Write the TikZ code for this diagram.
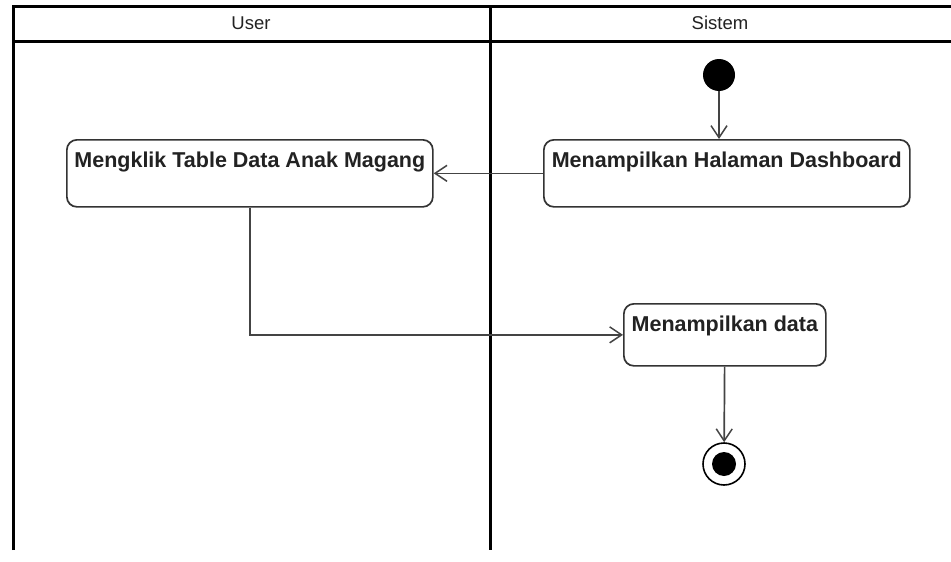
\documentclass[tikz,border=0pt]{standalone}
\usepackage{fontspec}
\setmainfont{Liberation Sans}
\usepackage{tikz}
\usetikzlibrary{arrows.meta, positioning}
\definecolor{mLane}{HTML}{000000}
\definecolor{mBorder}{HTML}{333333}
\definecolor{mText}{HTML}{222222}
\definecolor{mArrow}{HTML}{444444}

\begin{document}
\begin{tikzpicture}[x=1pt, y=-1pt,
    lane/.style={line width=3pt, mLane},
    head/.style={font=\fontsize{18.5}{22}\selectfont, text=mText},
    box/.style={rectangle, draw=mBorder, line width=1.7pt, fill=white, rounded corners=10pt, text=mText, font=\fontsize{21.5}{24}\selectfont\bfseries, inner xsep=0pt, inner ysep=0pt, text height=28pt, text depth=39pt, anchor=north west},
    arrow/.style={line width=1.7pt, mArrow, -{Straight Barb[length=12pt, width=16pt, line width=1.5pt]}},
    initial/.style={circle, fill=black, minimum size=32pt, inner sep=0pt},
    final/.style={circle, draw=black, line width=1.6pt, fill=white, minimum size=42pt, inner sep=0pt, path picture={\fill[black] (path picture bounding box.center) circle (12pt);}}
]
    \useasboundingbox (0,0) rectangle (951,562);

    % swimlanes
    \draw[lane] (13,550) -- (13,6) -- (951,6);
    \draw[lane] (13,41) -- (951,41);
    \draw[lane] (490,6) -- (490,550);
    \node[head] (user) at (251,23) {User};
    \node[head] (sistem) at (720,23) {Sistem};

    \node[initial] (start) at (719,75) {};
    \node[box, minimum width=366pt] (dash) at (543,139) {Menampilkan Halaman Dashboard};
    \node[box, minimum width=366pt] (klik) at (66,139) {Mengklik Table Data Anak Magang};
    \node[box, minimum width=202pt, text depth=34pt] (data) at (623,303) {Menampilkan data};
    \node[final] (stop) at (724,464) {};

    \draw[arrow] (start) -- (start |- dash.north);
    \draw[arrow] (dash) -- (klik);
    \draw[arrow] (klik) |- (data);
    \draw[arrow] (data) -- (stop);
\end{tikzpicture}
\end{document}
